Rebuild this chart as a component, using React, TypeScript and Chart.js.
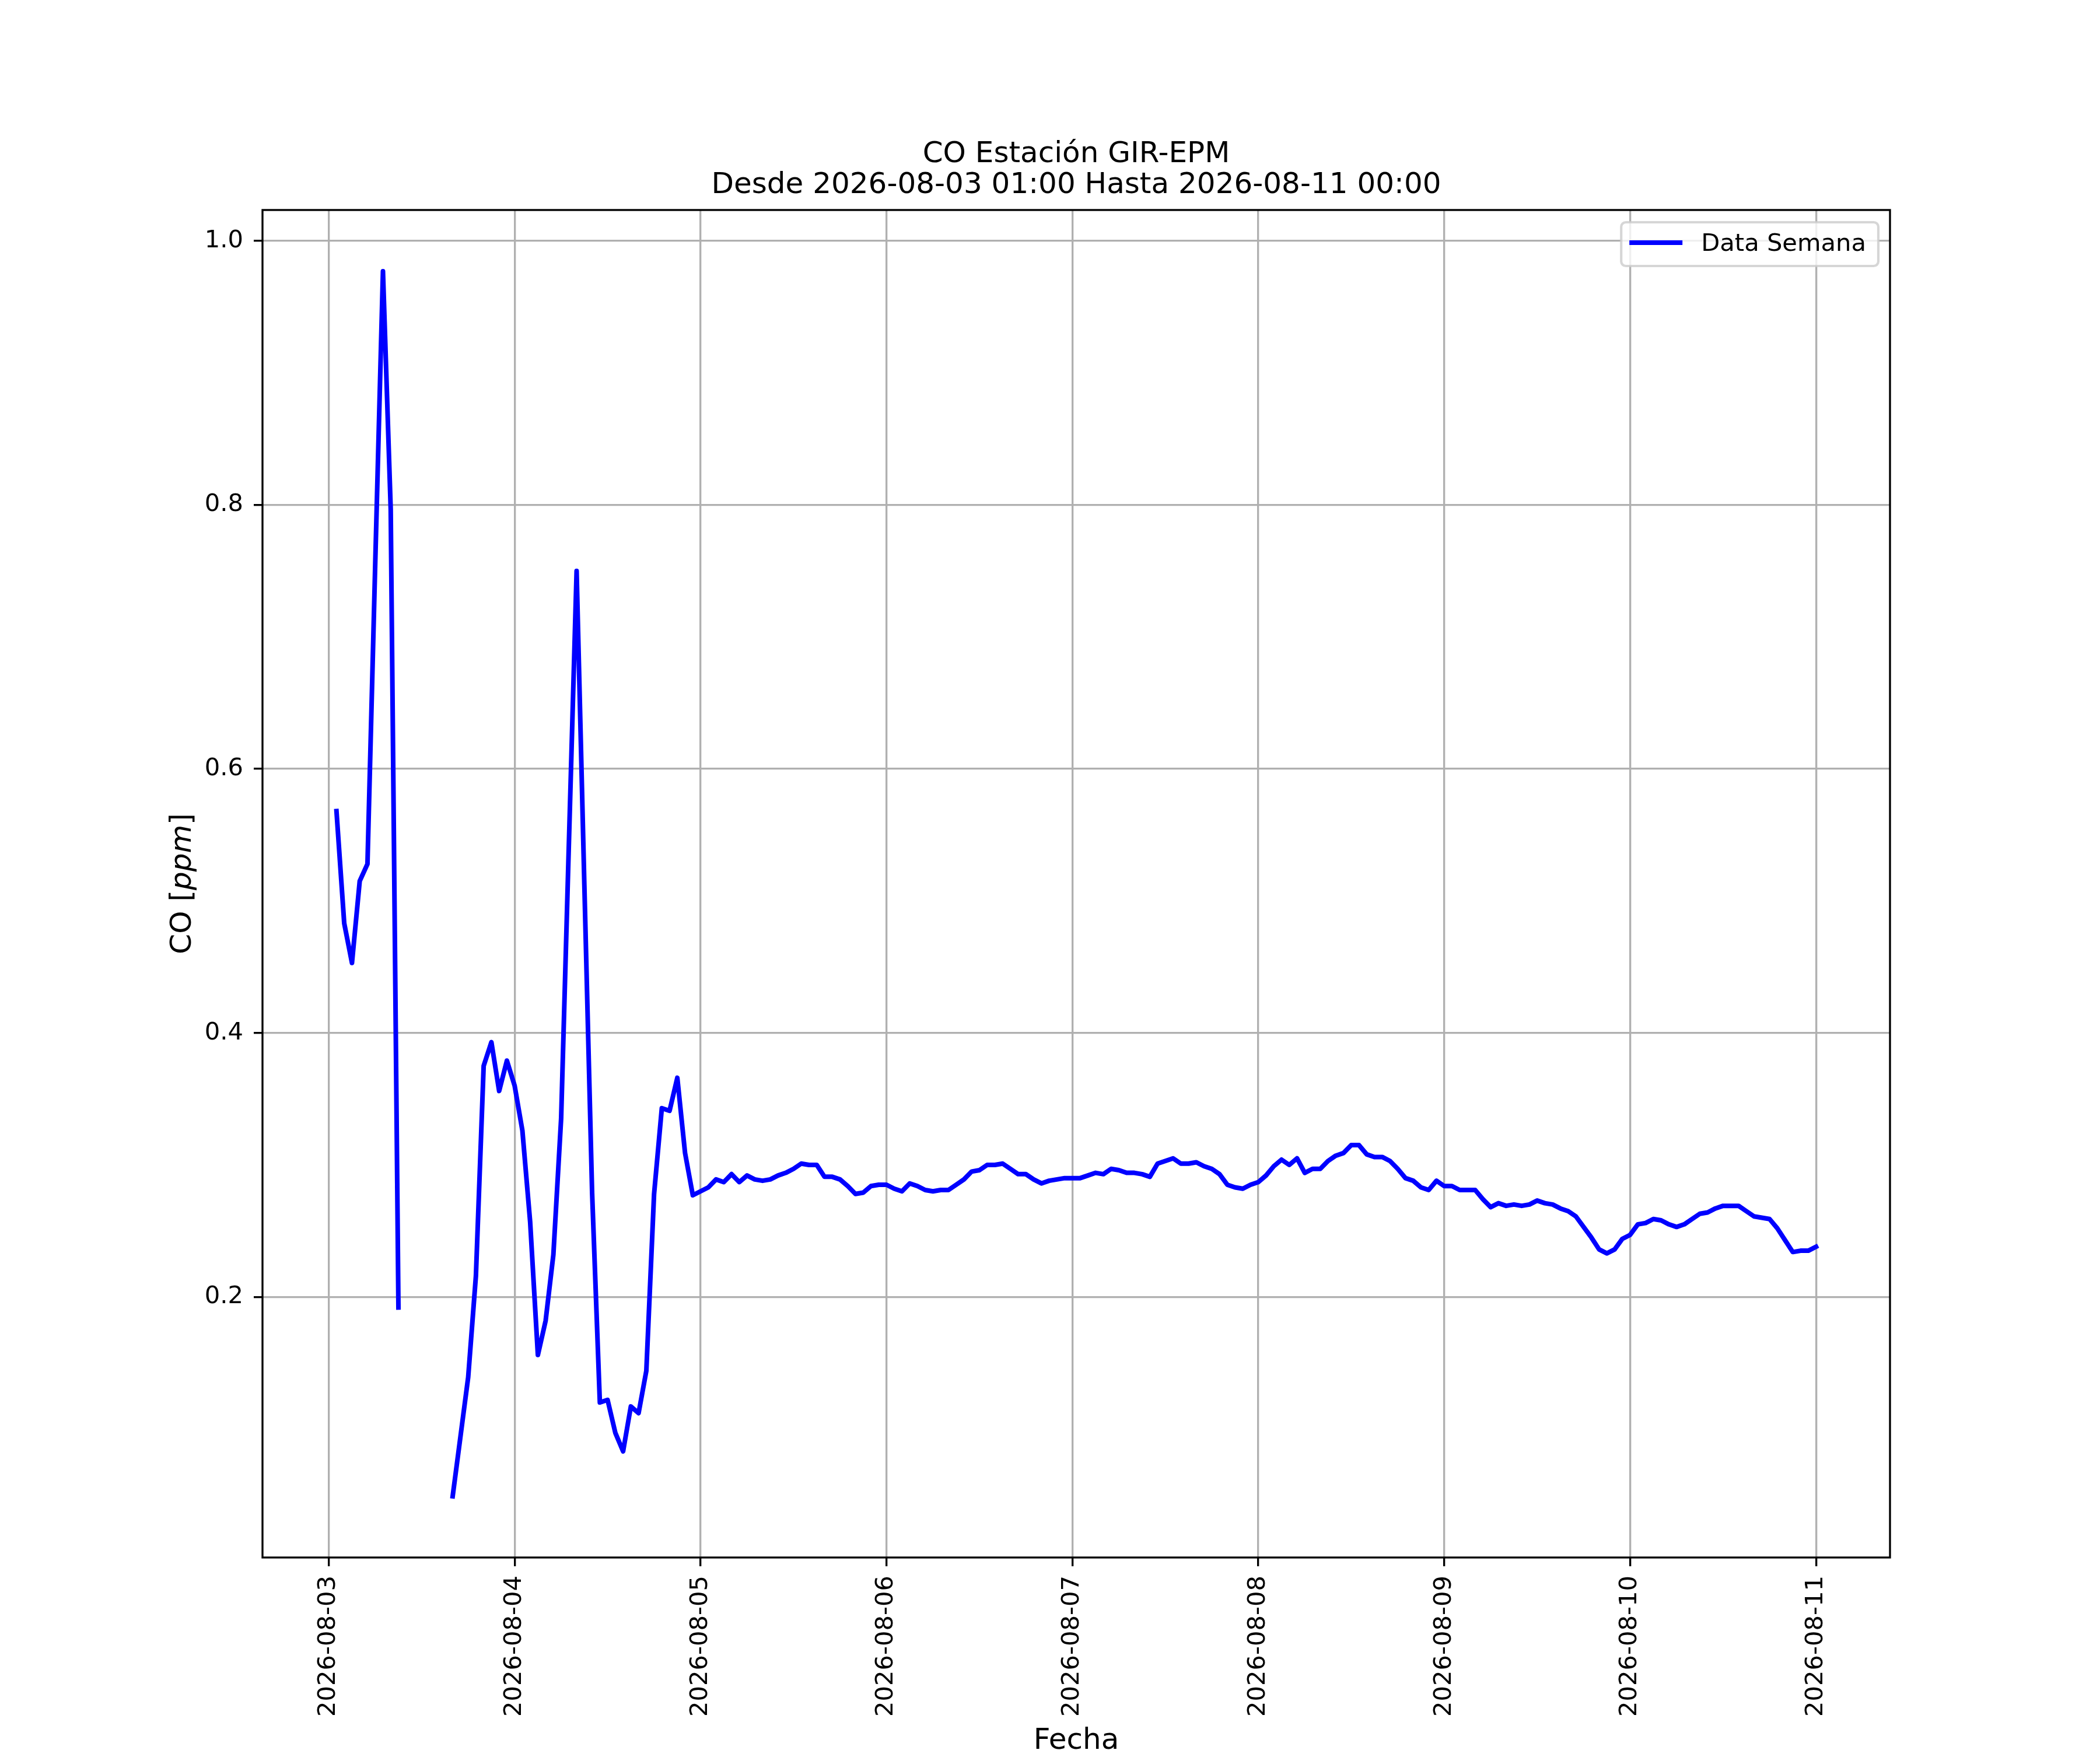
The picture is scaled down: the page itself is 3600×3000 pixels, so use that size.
import { useEffect, useRef } from 'react';
import { Chart, registerables } from 'chart.js';

Chart.register(...registerables);

const FONT = '"DejaVu Sans"';

// hourly samples, first one is 2026-08-03 01:00 (x = hours since 2026-08-03 00:00)
const firstHour = 1;
const dayLabels = [
    '2026-08-03', '2026-08-04', '2026-08-05', '2026-08-06', '2026-08-07',
    '2026-08-08', '2026-08-09', '2026-08-10', '2026-08-11',
];
const yTickValues = [0.2, 0.4, 0.6, 0.8, 1.0];
const seriesLabel = 'Data Semana';

const coValues: (number | null)[] = [
    // 08-03
    0.568, 0.483, 0.453, 0.515, 0.528, 0.755, 0.977, 0.797, 0.192,
    null, null, null, null, null, null,
    0.049, 0.094, 0.139, 0.216, 0.375, 0.393, 0.356, 0.379, 0.360,
    // 08-04
    0.326, 0.257, 0.156, 0.182, 0.232, 0.335, 0.543, 0.750, 0.512, 0.279, 0.120, 0.122,
    0.097, 0.083, 0.117, 0.112, 0.144, 0.278, 0.343, 0.341, 0.366, 0.309, 0.277, 0.280,
    // 08-05
    0.283, 0.289, 0.287, 0.293, 0.287, 0.292, 0.289, 0.288, 0.289, 0.292, 0.294, 0.297,
    0.301, 0.300, 0.300, 0.291, 0.291, 0.289, 0.284, 0.278, 0.279, 0.284, 0.285, 0.285,
    // 08-06
    0.282, 0.280, 0.286, 0.284, 0.281, 0.280, 0.281, 0.281, 0.285, 0.289, 0.295, 0.296,
    0.300, 0.300, 0.301, 0.297, 0.293, 0.293, 0.289, 0.286, 0.288, 0.289, 0.290, 0.290,
    // 08-07
    0.290, 0.292, 0.294, 0.293, 0.297, 0.296, 0.294, 0.294, 0.293, 0.291, 0.301, 0.303,
    0.305, 0.301, 0.301, 0.302, 0.299, 0.297, 0.293, 0.285, 0.283, 0.282, 0.285, 0.287,
    // 08-08
    0.292, 0.299, 0.304, 0.300, 0.305, 0.294, 0.297, 0.297, 0.303, 0.307, 0.309, 0.315,
    0.315, 0.308, 0.306, 0.306, 0.303, 0.297, 0.290, 0.288, 0.283, 0.281, 0.288, 0.284,
    // 08-09
    0.284, 0.281, 0.281, 0.281, 0.274, 0.268, 0.271, 0.269, 0.270, 0.269, 0.270, 0.273,
    0.271, 0.270, 0.267, 0.265, 0.261, 0.253, 0.245, 0.236, 0.233, 0.236, 0.244, 0.247,
    // 08-10
    0.255, 0.256, 0.259, 0.258, 0.255, 0.253, 0.255, 0.259, 0.263, 0.264, 0.267, 0.269,
    0.269, 0.269, 0.265, 0.261, 0.260, 0.259, 0.252, 0.243, 0.234, 0.235, 0.235, 0.238,
];

const titleLines = ['CO Estación GIR-EPM', 'Desde 2026-08-03 01:00 Hasta 2026-08-11 00:00'];

// box around the plot area (matplotlib spines)
const framePlugin = {
    id: 'frame',
    afterDatasetsDraw(chart: Chart) {
        const { ctx, chartArea: a } = chart;
        ctx.save();
        ctx.strokeStyle = '#000';
        ctx.lineWidth = 3.33;
        ctx.strokeRect(a.left, a.top, a.right - a.left, a.bottom - a.top);
        ctx.restore();
    },
};

// y label with italic unit
const yLabelPlugin = {
    id: 'yLabel',
    afterDraw(chart: Chart) {
        const { ctx, chartArea: a } = chart;
        const parts = [
            { t: 'CO [', f: `50px ${FONT}` },
            { t: 'ppm', f: `italic 50px ${FONT}` },
            { t: ']', f: `50px ${FONT}` },
        ];
        ctx.save();
        let total = 0;
        for (const p of parts) {
            ctx.font = p.f;
            total += ctx.measureText(p.t).width;
        }
        ctx.translate(327, (a.top + a.bottom) / 2);
        ctx.rotate(-Math.PI / 2);
        ctx.fillStyle = '#000';
        ctx.textBaseline = 'alphabetic';
        ctx.textAlign = 'left';
        let x = -total / 2;
        for (const p of parts) {
            ctx.font = p.f;
            ctx.fillText(p.t, x, 0);
            x += ctx.measureText(p.t).width;
        }
        ctx.restore();
    },
};

// matplotlib-like legend box in the upper right corner
const legendBoxPlugin = {
    id: 'legendBox',
    afterDraw(chart: Chart) {
        const { ctx, chartArea: a } = chart;
        const ds = chart.data.datasets[0] as any;
        ctx.save();
        ctx.font = `41.67px ${FONT}`;
        const tw = ctx.measureText(ds.label).width;
        const w = 14 + 91 + 32 + tw + 21;
        const h = 75;
        const right = a.right - 20;
        const left = right - w;
        const top = a.top + 21;
        ctx.beginPath();
        ctx.roundRect(left, top, w, h, 8);
        ctx.fillStyle = 'rgba(255,255,255,0.8)';
        ctx.fill();
        ctx.strokeStyle = 'rgba(204,204,204,0.8)';
        ctx.lineWidth = 4.17;
        ctx.stroke();
        ctx.beginPath();
        ctx.moveTo(left + 14, top + 35);
        ctx.lineTo(left + 14 + 91, top + 35);
        ctx.strokeStyle = ds.borderColor;
        ctx.lineWidth = ds.borderWidth;
        ctx.lineCap = 'butt';
        ctx.stroke();
        ctx.fillStyle = '#000';
        ctx.textBaseline = 'alphabetic';
        ctx.textAlign = 'left';
        ctx.fillText(ds.label, left + 14 + 91 + 32, top + 49);
        ctx.restore();
    },
};

export default function App() {
    const canvasRef = useRef<HTMLCanvasElement>(null);

    useEffect(() => {
        const ctx = canvasRef.current!.getContext('2d')!;

        const valid = coValues.filter((v): v is number => v !== null);
        const yLo = Math.min(...valid);
        const yHi = Math.max(...valid);
        const yPad = (yHi - yLo) * 0.05;
        const xLo = firstHour;
        const xHi = firstHour + coValues.length - 1;
        const xPad = (xHi - xLo) * 0.05;

        const tickFont = { family: FONT, size: 41.67 };
        const grid = {
            color: '#b0b0b0',
            lineWidth: 3.33,
            drawTicks: true,
            tickLength: 15,
            tickColor: '#000',
            tickWidth: 3.33,
        };

        const chart = new Chart(ctx, {
            type: 'line',
            data: {
                datasets: [
                    {
                        label: seriesLabel,
                        data: coValues.map((v, i) => ({ x: firstHour + i, y: v })) as any,
                        borderColor: '#0000ff',
                        borderWidth: 8,
                        borderCapStyle: 'square',
                        borderJoinStyle: 'round',
                        pointRadius: 0,
                        tension: 0,
                        spanGaps: false,
                        fill: false,
                    },
                ],
            },
            options: {
                animation: false,
                responsive: false,
                devicePixelRatio: 1,
                layout: { padding: { left: 0, right: 360, top: 0, bottom: 0 } },
                plugins: {
                    legend: { display: false },
                    tooltip: { enabled: false },
                    title: {
                        display: true,
                        fullSize: false,
                        text: titleLines,
                        color: '#000',
                        font: { family: FONT, size: 50, weight: 'normal', lineHeight: 1.06 },
                        padding: { top: 238.5, bottom: 15.5 },
                    },
                },
                scales: {
                    x: {
                        type: 'linear',
                        min: xLo - xPad,
                        max: xHi + xPad,
                        afterBuildTicks: (s: any) => {
                            s.ticks = dayLabels.map((_, i) => ({ value: i * 24 }));
                        },
                        afterFit: (s: any) => {
                            s.height = 330;
                        },
                        ticks: {
                            autoSkip: false,
                            minRotation: 90,
                            maxRotation: 90,
                            padding: 16,
                            color: '#000',
                            font: tickFont,
                            callback: (v: any) => dayLabels[Math.round(Number(v) / 24)] ?? '',
                        },
                        grid,
                        border: { display: false },
                        title: {
                            display: true,
                            text: 'Fecha',
                            color: '#000',
                            font: { family: FONT, size: 50, lineHeight: 1.2 },
                            padding: { top: 0, bottom: -15 },
                        },
                    },
                    y: {
                        type: 'linear',
                        min: yLo - yPad,
                        max: yHi + yPad,
                        afterBuildTicks: (s: any) => {
                            s.ticks = yTickValues.map((v) => ({ value: v }));
                        },
                        afterFit: (s: any) => {
                            s.width = 450;
                        },
                        ticks: {
                            padding: 18,
                            color: '#000',
                            font: tickFont,
                            callback: (v: any) => Number(v).toFixed(1),
                        },
                        grid,
                        border: { display: false },
                    },
                },
            },
            plugins: [framePlugin, yLabelPlugin, legendBoxPlugin],
        });

        return () => {
            chart.destroy();
        };
    }, []);

    return (
        <div style={{ position: 'absolute', left: 0, top: 0, width: 3600, height: 3000, background: '#fff' }}>
            <canvas ref={canvasRef} width={3600} height={3000} style={{ display: 'block' }} />
        </div>
    );
}
